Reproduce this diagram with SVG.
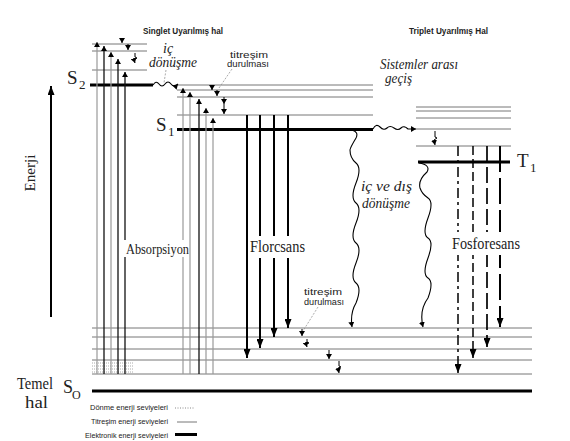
<svg xmlns="http://www.w3.org/2000/svg" width="570" height="441" viewBox="0 0 570 441">
<defs>
<marker id="a" markerWidth="5" markerHeight="6" refX="5" refY="3" orient="auto" markerUnits="userSpaceOnUse"><path d="M0,0 L5,3 L0,6 z" fill="#000"/></marker>
<marker id="b" markerWidth="9" markerHeight="7" refX="9" refY="3.5" orient="auto" markerUnits="userSpaceOnUse"><path d="M0,0 L9,3.5 L0,7 z" fill="#000"/></marker>
<style>
.vib{stroke:#777;stroke-width:1;fill:none}
.el{stroke:#000;stroke-width:3.2;fill:none}
.g{stroke:#999;stroke-width:1.2;fill:none}
.k{stroke:#111;stroke-width:1.3;fill:none}
.fl{stroke:#000;stroke-width:2;fill:none}
.sm{stroke:#000;stroke-width:1;fill:none}
.ld{stroke:#888;stroke-width:0.7;stroke-dasharray:2,1.5;fill:none}
.wv{stroke:#000;stroke-width:1.1;fill:none}
.rot{stroke:#aaa;stroke-width:1;stroke-dasharray:1,1;fill:none}
.ser{font-family:"Liberation Serif","Times New Roman",serif;fill:#222}
.it{font-family:"Liberation Serif","Times New Roman",serif;font-style:italic;fill:#222}
.hd{font-family:"Liberation Sans",Arial,sans-serif;font-weight:bold;font-size:9px;fill:#222}
.lg{font-family:"Liberation Sans",Arial,sans-serif;font-size:7px;fill:#222}
.sml{font-family:"Liberation Sans",Arial,sans-serif;font-size:9px;fill:#222}
</style>
</defs>
<rect width="570" height="441" fill="#fff"/>

<g id="headers">
<text class="hd" x="143" y="34" textLength="80" lengthAdjust="spacingAndGlyphs">Singlet Uyarılmış hal</text>
<text class="hd" x="409" y="34" textLength="79" lengthAdjust="spacingAndGlyphs">Triplet Uyarılmış Hal</text>
</g>

<g id="energy-axis">
<line x1="51" y1="317" x2="51" y2="86" stroke="#000" stroke-width="2" marker-end="url(#b)"/>
<text class="ser" font-size="15" transform="translate(35,173) rotate(-90)" text-anchor="middle" textLength="37" lengthAdjust="spacingAndGlyphs">Enerji</text>
</g>

<g id="S2">
<line class="vib" x1="92" y1="44" x2="147" y2="44"/>
<line class="vib" x1="92" y1="51" x2="147" y2="51"/>
<line class="vib" x1="92" y1="70" x2="147" y2="70"/>
<line class="el" x1="90" y1="85" x2="153" y2="85"/>
<text class="ser" x="67" y="84" font-size="19">S</text><text class="ser" x="79" y="89" font-size="13">2</text>
</g>

<g id="S1">
<line class="vib" x1="177" y1="85" x2="373" y2="85"/>
<line class="vib" x1="177" y1="90" x2="373" y2="90"/>
<line class="vib" x1="177" y1="97" x2="373" y2="97"/>
<line class="vib" x1="177" y1="115" x2="373" y2="115"/>
<line class="el" x1="177" y1="129.5" x2="373" y2="129.5"/>
<text class="ser" x="156" y="131" font-size="19">S</text><text class="ser" x="168" y="136" font-size="13">1</text>
</g>

<g id="T1">
<line class="vib" x1="416" y1="107" x2="511" y2="107"/>
<line class="vib" x1="416" y1="111" x2="511" y2="111"/>
<line class="vib" x1="416" y1="118" x2="511" y2="118"/>
<line class="vib" x1="416" y1="129" x2="511" y2="129"/>
<line class="vib" x1="416" y1="146" x2="511" y2="146"/>
<line class="el" x1="418" y1="162" x2="510" y2="162"/>
<text class="ser" x="517" y="167" font-size="19">T</text><text class="ser" x="530" y="172" font-size="13">1</text>
</g>

<g id="S0">
<line class="vib" x1="92" y1="328" x2="532" y2="328"/>
<line class="vib" x1="92" y1="337" x2="532" y2="337"/>
<line class="vib" x1="92" y1="349" x2="532" y2="349"/>
<line class="vib" x1="92" y1="360" x2="532" y2="360"/>
<line class="vib" x1="92" y1="374" x2="532" y2="374"/>
<line class="rot" x1="92" y1="363" x2="133" y2="363"/>
<line class="rot" x1="92" y1="366" x2="133" y2="366"/>
<line class="rot" x1="92" y1="369" x2="133" y2="369"/>
<line class="rot" x1="92" y1="372" x2="133" y2="372"/>
<line class="el" x1="92" y1="391" x2="532" y2="391"/>
<text class="ser" x="17" y="389" font-size="16" textLength="36" lengthAdjust="spacingAndGlyphs">Temel</text>
<text class="ser" x="25" y="408" font-size="16" textLength="23" lengthAdjust="spacingAndGlyphs">hal</text>
<text class="ser" x="63" y="393" font-size="18">S</text><text class="ser" x="72" y="399" font-size="12">O</text>
</g>

<g id="connectors">
<line class="g" x1="97" y1="374" x2="97" y2="42" marker-end="url(#a)"/>
<line class="k" x1="104" y1="374" x2="104" y2="46" marker-end="url(#a)"/>
<line class="g" x1="111" y1="374" x2="111" y2="52" stroke="#555" marker-end="url(#a)"/>
<line class="k" x1="118" y1="374" x2="118" y2="59" marker-end="url(#a)"/>
<line class="k" x1="125" y1="374" x2="125" y2="72" marker-end="url(#a)"/>
<line class="g" x1="183" y1="374" x2="183" y2="88" marker-end="url(#a)"/>
<line class="g" x1="190" y1="374" x2="190" y2="92" marker-end="url(#a)"/>
<line class="k" x1="199" y1="374" x2="199" y2="99" marker-end="url(#a)"/>
<line class="g" x1="206" y1="374" x2="206" y2="108" marker-end="url(#a)"/>
<line class="g" x1="213" y1="374" x2="213" y2="118" marker-end="url(#a)"/>
<line class="sm" x1="122" y1="40" x2="122" y2="43" marker-end="url(#a)"/>
<line class="sm" x1="128" y1="44" x2="128" y2="50" marker-end="url(#a)"/>
<path class="sm" d="M135,53 L135,57 L137,58 L134,60 L135,63" marker-end="url(#a)"/>
<path class="wv" d="M153,85 Q156,80 159,84 T165,84 T171,84 T178,84" marker-end="url(#a)"/>
<line class="sm" x1="212" y1="85" x2="212" y2="90" marker-end="url(#a)"/>
<line class="sm" x1="217" y1="90" x2="217" y2="96" marker-end="url(#a)"/>
<line class="sm" x1="224" y1="97" x2="224" y2="104" marker-end="url(#a)"/>
<line class="sm" x1="224" y1="104" x2="224" y2="114" marker-end="url(#a)"/>
<line class="fl" x1="247" y1="115" x2="247" y2="358" marker-end="url(#b)"/>
<line class="fl" x1="260" y1="115" x2="260" y2="348" marker-end="url(#b)"/>
<line class="fl" x1="274" y1="115" x2="274" y2="337" marker-end="url(#b)"/>
<line class="fl" x1="288" y1="115" x2="288" y2="328" marker-end="url(#b)"/>
<line class="sm" x1="302" y1="329" x2="302" y2="336" marker-end="url(#a)"/>
<path class="sm" d="M307,339 L307,342 L309,343 L306,344 L307,347" marker-end="url(#a)"/>
<line class="sm" x1="329" y1="350" x2="329" y2="359" marker-end="url(#a)"/>
<path class="sm" d="M339,361 L339,366 L341,367 L338,368 L339,373" marker-end="url(#a)"/>
<path class="wv" d="M352,130 Q359,132 356,138 Q350,148 350,150 Q350,158 356,163 T356,183 T356,203 T356,223 T356,243 T356,263 T356,283 T356,303 Q350,313 352,327" marker-end="url(#a)"/>
<path class="wv" d="M373,129 Q376,123 380,127 T387,128 T394,128 T401,128 T408,129 L416,129" marker-end="url(#a)"/>
<path class="sm" d="M435,131 L435,137 L437,138 L434,140 L435,145" marker-end="url(#a)"/>
<line x1="458" y1="146" x2="458" y2="373" stroke="#000" stroke-width="1.5" stroke-dasharray="10,4,3,4" marker-end="url(#b)"/>
<line x1="473" y1="146" x2="473" y2="358" stroke="#000" stroke-width="1.5" stroke-dasharray="9,4" marker-end="url(#b)"/>
<line x1="487" y1="146" x2="487" y2="347" stroke="#000" stroke-width="1.7" stroke-dasharray="16,5" marker-end="url(#b)"/>
<line x1="500" y1="146" x2="500" y2="327" stroke="#000" stroke-width="2" stroke-dasharray="26,6" marker-end="url(#b)"/>
<path class="wv" d="M419,163 Q431,165 427,172 Q418,180 420,188 Q422,194 428,198 T428,218 T428,238 T428,258 T428,278 T428,298 Q419,310 423,327" marker-end="url(#a)"/>
<line class="ld" x1="166" y1="70" x2="164" y2="83"/>
<line class="ld" x1="232" y1="69" x2="219" y2="88"/>
<line class="ld" x1="318" y1="307" x2="303" y2="331"/>
</g>

<g id="labels">
<text class="it" x="163" y="53" font-size="14">iç</text>
<text class="it" x="149" y="67" font-size="14" textLength="48" lengthAdjust="spacingAndGlyphs">dönüşme</text>
<text class="sml" x="230" y="58" textLength="38" lengthAdjust="spacingAndGlyphs">titreşim</text>
<text class="sml" x="227" y="67" textLength="42" lengthAdjust="spacingAndGlyphs">durulması</text>
<text class="it" x="380" y="69" font-size="14" textLength="78" lengthAdjust="spacingAndGlyphs">Sistemler arası</text>
<text class="it" x="385" y="83" font-size="14" textLength="27" lengthAdjust="spacingAndGlyphs">geçiş</text>
<text class="it" x="361" y="191" font-size="14" textLength="51" lengthAdjust="spacingAndGlyphs">iç ve dış</text>
<text class="it" x="362" y="208" font-size="14" textLength="48" lengthAdjust="spacingAndGlyphs">dönüşme</text>
<rect x="123" y="240" width="66" height="17" fill="#fff"/>
<text class="ser" x="126" y="254" font-size="14" textLength="63" lengthAdjust="spacingAndGlyphs">Absorpsiyon</text>
<rect x="249" y="236" width="60" height="22" fill="#fff"/>
<text class="ser" x="250" y="252" font-size="16" textLength="55" lengthAdjust="spacingAndGlyphs">Florcsans</text>
<rect x="450" y="232" width="72" height="23" fill="#fff"/>
<text class="ser" x="452" y="249" font-size="16" textLength="68" lengthAdjust="spacingAndGlyphs">Fosforesans</text>
<text class="sml" x="304" y="295" textLength="38" lengthAdjust="spacingAndGlyphs">titreşim</text>
<text class="sml" x="304" y="305" textLength="40" lengthAdjust="spacingAndGlyphs">durulması</text>
</g>

<g id="legend">
<text class="lg" x="168" y="410" text-anchor="end" textLength="78" lengthAdjust="spacingAndGlyphs">Dönme enerji seviyeleri</text>
<line x1="175" y1="408" x2="195" y2="408" stroke="#888" stroke-width="1" stroke-dasharray="1,1.5"/>
<text class="lg" x="168" y="424" text-anchor="end" textLength="77" lengthAdjust="spacingAndGlyphs">Titreşim enerji seviyeleri</text>
<line x1="177" y1="422" x2="197" y2="422" stroke="#777" stroke-width="1"/>
<text class="lg" x="168" y="438" text-anchor="end" textLength="83" lengthAdjust="spacingAndGlyphs">Elektronik enerji seviyeleri</text>
<line x1="175" y1="434.5" x2="197" y2="434.5" stroke="#000" stroke-width="3"/>
</g>
</svg>
